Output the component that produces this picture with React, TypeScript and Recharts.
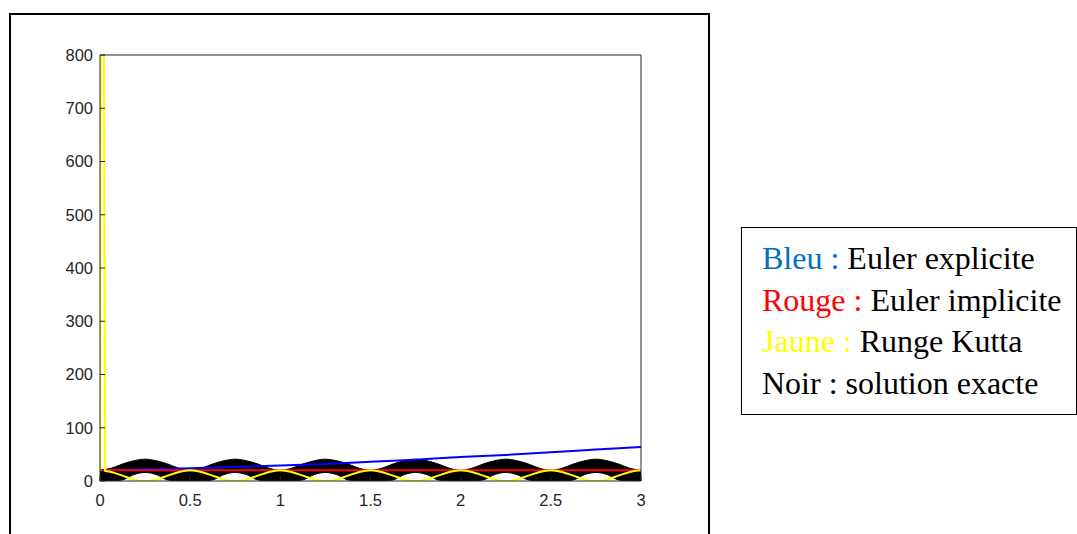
import React from 'react';
import { ComposedChart, Area, Line, XAxis, YAxis, Legend } from 'recharts';

// temps (s) pour la solution exacte et Runge Kutta
const tGrid = [
  0, 0.0625, 0.125, 0.1875, 0.25, 0.3125, 0.375, 0.4375,
  0.5, 0.5625, 0.625, 0.6875, 0.75, 0.8125, 0.875, 0.9375,
  1, 1.0625, 1.125, 1.1875, 1.25, 1.3125, 1.375, 1.4375,
  1.5, 1.5625, 1.625, 1.6875, 1.75, 1.8125, 1.875, 1.9375,
  2, 2.0625, 2.125, 2.1875, 2.25, 2.3125, 2.375, 2.4375,
  2.5, 2.5625, 2.625, 2.6875, 2.75, 2.8125, 2.875, 2.9375,
  3
];

// solution exacte : enveloppe basse / haute de l'oscillation rapide
const exactLow = [
  0, 0, 2, 12, 16, 12, 2, 0,
  0, 0, 2, 12, 16, 12, 2, 0,
  0, 0, 2, 12, 16, 12, 2, 0,
  0, 0, 2, 12, 16, 12, 2, 0,
  0, 0, 2, 12, 16, 12, 2, 0,
  0, 0, 2, 12, 16, 12, 2, 0,
  0
];
const exactHigh = [
  20, 24, 32, 38, 41, 38, 32, 24,
  20, 24, 32, 38, 41, 38, 32, 24,
  20, 24, 32, 38, 41, 38, 32, 24,
  20, 24, 32, 38, 41, 38, 32, 24,
  20, 24, 32, 38, 41, 38, 32, 24,
  20, 24, 32, 38, 41, 38, 32, 24,
  20
];

// Runge Kutta : pic initial puis oscillation
const tRungeKutta = [0, 0.005, 0.022, 0.028, ...tGrid.slice(1)];
const rungeKutta = [
  20, 800, 800, 19,
  17, 10, 3, 0, 3, 10, 17,
  20, 17, 10, 3, 0, 3, 10, 17,
  20, 17, 10, 3, 0, 3, 10, 17,
  20, 17, 10, 3, 0, 3, 10, 17,
  20, 17, 10, 3, 0, 3, 10, 17,
  20, 17, 10, 3, 0, 3, 10, 17,
  20
];

// Euler explicite / implicite
const tEuler = [0, 0.25, 0.5, 0.75, 1, 1.25, 1.5, 1.75, 2, 2.25, 2.5, 2.75, 3];
const eulerExplicite = [20, 22, 24, 26.5, 29, 32, 36, 40, 45, 49, 54, 59, 64];
const eulerImplicite = [20, 20, 20, 20, 20, 20, 20, 20, 20, 20, 20, 20, 20];

const xTicks = [0, 0.5, 1, 1.5, 2, 2.5, 3];
const yTicks = [0, 100, 200, 300, 400, 500, 600, 700, 800];

const legendNames = ['Bleu', 'Rouge', 'Jaune', 'Noir'];
const legendLabels = ['Euler explicite', 'Euler implicite', 'Runge Kutta', 'solution exacte'];
const legendColors = ['#0070C0', '#FF0000', '#FFFF00', '#000000'];

const exactData = tGrid.map((t, i) => ({ t, band: [exactLow[i], exactHigh[i]] }));
const rkData = tRungeKutta.map((t, i) => ({ t, y: rungeKutta[i] }));
const explData = tEuler.map((t, i) => ({ t, y: eulerExplicite[i] }));
const implData = tEuler.map((t, i) => ({ t, y: eulerImplicite[i] }));

const axisColor = '#262626';
const tickFont = { fill: '#262626', fontSize: 16.5, fontFamily: 'Liberation Sans, Arial, sans-serif' };

const renderLegend = () => (
  <div
    style={{
      boxSizing: 'border-box',
      width: 336,
      height: 188,
      border: '1px solid #000',
      background: '#fff',
      padding: '10px 0 0 20px',
      fontFamily: '"Liberation Serif", "Times New Roman", serif',
      fontSize: 32,
      lineHeight: '41.5px',
      color: '#000',
      whiteSpace: 'nowrap',
      textAlign: 'left'
    }}
  >
    {legendNames.map((name, i) => (
      <div key={name}>
        <span style={{ color: legendColors[i] }}>{name} :</span> {legendLabels[i]}
      </div>
    ))}
  </div>
);

const App: React.FC = () => {
  return (
    <div style={{ position: 'absolute', left: 0, top: 0, width: 1077, height: 534, overflow: 'hidden', background: '#fff' }}>
      <div
        style={{
          position: 'absolute',
          left: 9,
          top: 13,
          width: 701,
          height: 600,
          boxSizing: 'border-box',
          border: '2px solid #000'
        }}
      />
      <div style={{ position: 'absolute', left: 0, top: 0 }}>
        <ComposedChart width={1077} height={534} margin={{ top: 54, right: 435, bottom: 23, left: 50 }}>
          <XAxis
            xAxisId="b"
            dataKey="t"
            type="number"
            domain={[0, 3]}
            ticks={xTicks}
            allowDataOverflow
            height={30}
            tickSize={-5}
            tickMargin={18}
            stroke={axisColor}
            tick={tickFont}
          />
          <XAxis
            xAxisId="top"
            dataKey="t"
            orientation="top"
            type="number"
            domain={[0, 3]}
            ticks={xTicks}
            allowDataOverflow
            height={1}
            tickSize={-5}
            tick={false}
            stroke={axisColor}
          />
          <YAxis
            yAxisId="l"
            type="number"
            domain={[0, 800]}
            ticks={yTicks}
            allowDataOverflow
            width={50}
            tickSize={-5}
            tickMargin={12}
            stroke={axisColor}
            tick={tickFont}
          />
          <YAxis
            yAxisId="r"
            orientation="right"
            type="number"
            domain={[0, 800]}
            ticks={yTicks}
            allowDataOverflow
            width={1}
            tickSize={-5}
            tick={false}
            stroke={axisColor}
          />
          <Area
            xAxisId="b"
            yAxisId="l"
            data={exactData}
            dataKey="band"
            type="monotone"
            fill="#000"
            fillOpacity={1}
            stroke="#000"
            strokeWidth={1}
            isAnimationActive={false}
            legendType="none"
          />
          <Line
            xAxisId="b"
            yAxisId="l"
            data={explData}
            dataKey="y"
            type="monotone"
            stroke="#0000FF"
            strokeWidth={2}
            dot={false}
            isAnimationActive={false}
          />
          <Line
            xAxisId="b"
            yAxisId="l"
            data={implData}
            dataKey="y"
            type="linear"
            stroke="#FF0000"
            strokeWidth={2}
            dot={false}
            isAnimationActive={false}
          />
          <Line
            xAxisId="top"
            yAxisId="r"
            data={rkData}
            dataKey="y"
            type="monotone"
            stroke="#FFFF00"
            strokeWidth={2}
            dot={false}
            isAnimationActive={false}
          />
          <Legend
            layout="horizontal"
            verticalAlign="middle"
            align="center"
            content={renderLegend}
            wrapperStyle={{ left: 741, top: 227, width: 336, height: 188 }}
          />
        </ComposedChart>
      </div>
    </div>
  );
};

export default App;
